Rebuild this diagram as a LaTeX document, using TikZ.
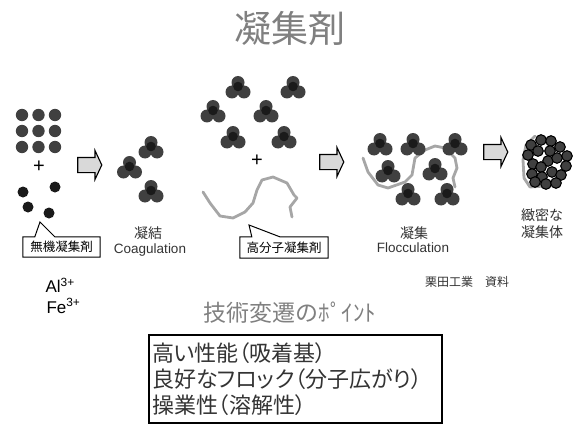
\documentclass[tikz,border=0pt]{standalone}
\usepackage{fontspec}
\setmainfont{Liberation Sans}
\newfontfamily\jp{Noto Sans CJK JP}
\newfontfamily\jpprop[RawFeature=+palt]{Noto Sans CJK JP}
\usetikzlibrary{calc}
\usetikzlibrary{shapes.arrows}
\definecolor{DotGray}{HTML}{404040}
\definecolor{CoreGray}{HTML}{1A1A1A}
\definecolor{ChainGray}{HTML}{A6A6A6}
\definecolor{TitleGray}{HTML}{808080}
\definecolor{TextGray}{HTML}{333333}
\newcommand{\fsize}[1]{\fontsize{#1}{#1}\selectfont}
\tikzset{
  trio/.pic={
    \fill[DotGray] (0,-5.5) circle (6.5pt) (-6,4) circle (6.5pt) (6,4) circle (6.5pt);
    \fill[CoreGray] (0,-1.5) circle (4.8pt);
  },
  flow arrow/.style={single arrow, draw=black, line width=1.1pt, fill=black!15,
    minimum height=24pt, inner sep=7pt, single arrow head extend=7pt,
    single arrow tip angle=130},
  polymer/.style={ChainGray, line width=2.8pt, line join=round, line cap=round},
  jlabel/.style={font=\jp\fsize{14}, text=TextGray, inner sep=0pt},
  elabel/.style={font=\fsize{13.5}, text=TextGray, inner sep=0pt},
  tag/.style={font=\jp\fsize{12.5}, inner sep=0pt},
}

\begin{document}
\begin{tikzpicture}[x=1pt, y=-1pt]
  \useasboundingbox (0,0) rectangle (578,425);

  \node[font=\jp\fsize{37}, text=TitleGray] (title) at (290,29) {凝集剤};

  % inorganic salts: fine particles + metal ions
  \foreach \x in {22,38.5,55}
  \foreach \y in {115,131,147}
  {
    \fill[DotGray] (\x,\y) circle (6.2pt);
  }
  \node[font=\fsize{20}] (plus1) at (39,167) {+};
  \foreach \x/\y in {23/192, 55/187, 28/207, 49/213}
    \fill[CoreGray] (\x,\y) circle (5.5pt);

  \node[tag, minimum width=77pt, minimum height=20pt] (inorg) at (61.5,247) {無機凝集剤};
  \coordinate (inorgtip) at (40,222);
  \draw[line width=1pt] (inorg.north west) -- ($(inorg.north west)+(12,0)$) -- (inorgtip)
    -- ($(inorg.north west)+(32,0)$) -- (inorg.north east) -- (inorg.south east)
    -- (inorg.south west) -- cycle;

  \node[anchor=west, font=\fsize{17}] (al) at (42,285) {Al\textsuperscript{3+}};
  \node[anchor=west, font=\fsize{17}] (fe) at (43,306) {Fe\textsuperscript{3+}};

  \node[flow arrow] (arr1) at (88,165) {};

  % coagulation
  \pic at (151,148) {trio};
  \pic at (129.5,168) {trio};
  \pic at (151,192) {trio};
  \node[jlabel] (coagj) at (148,233) {凝結};
  \node[elabel] (coage) at (150,250) {Coagulation};

  % micro flocs + polymer
  \foreach \x/\y in {238/88, 293/88, 213/112, 266/112, 233/138, 284/138}
    \pic at (\x,\y) {trio};
  \node[font=\fsize{20}] (plus2) at (257,161) {+};
  \draw[polymer] (203,192) -- (210,203) -- (220,216) -- (233,218) -- (245,212)
    -- (253,203) -- (257,190) -- (262,180) -- (273,177) -- (287,183)
    -- (294,195) -- (297,198) -- (290,207) -- (292,217);

  \node[tag, minimum width=88pt, minimum height=21pt] (polym) at (284,247.5) {高分子凝集剤};
  \coordinate (polymtip) at (249,225);
  \draw[line width=1pt] (polym.north west) -- ($(polym.north west)+(12,0)$) -- (polymtip)
    -- ($(polym.north west)+(40,0)$) -- (polym.north east) -- (polym.south east)
    -- (polym.south west) -- cycle;

  \node[flow arrow] (arr2) at (330,162) {};

  % flocculation
  \draw[polymer] (363,158) -- (368,172) -- (378,185) -- (388,188) -- (405,182)
    -- (412,175) -- (415,158) -- (425,150) -- (435,146) -- (445,148)
    -- (455,158) -- (457,168) -- (453,178) -- (455,187);
  \foreach \x/\y in {380/145, 413/145, 455/145, 388/172, 435/170, 408/195, 447/195}
    \pic at (\x,\y) {trio};
  \node[jlabel] (flocj) at (414,233) {凝集};
  \node[elabel] (floce) at (413,248) {Flocculation};

  \node[flow arrow] (arr3) at (494,152) {};

  % dense floc
  \draw[polymer] (535,136) -- (526,145) -- (523,160) -- (524,178) -- (530,187) -- (545,186);
  \foreach \x/\y in {531/145, 541/140, 551/141, 560/147, 528/155, 538/151, 567/156,
                     533/164, 548/161, 557/158, 566/166, 541/167, 532/174, 542/177,
                     552/172, 561/175, 535/182, 546/184, 556/183, 550/151}
    \filldraw[fill=DotGray, draw=black, line width=1.1pt] (\x,\y) circle (5.3pt);
  \node[jlabel, align=center] (dense) at (542,224) {緻密な\\[3pt]凝集体};

  \node[font=\jp\fsize{12}, text=TextGray] (src) at (467,282) {栗田工業　資料};

  % key points
  \node[font=\jp\fsize{23}, text=TitleGray] (keyttl) at (290,313) {技術変遷のﾎﾟｲﾝﾄ};
  \node[draw, line width=1.8pt, minimum width=293pt, minimum height=88pt,
        text width=287pt, inner xsep=3pt, align=left, text=TextGray,
        font=\jpprop\fontsize{22}{26}\selectfont] (points) at (295.5,379)
        {高い性能（吸着基）\\良好なフロック（分子広がり）\\操業性（溶解性）};
\end{tikzpicture}
\end{document}
